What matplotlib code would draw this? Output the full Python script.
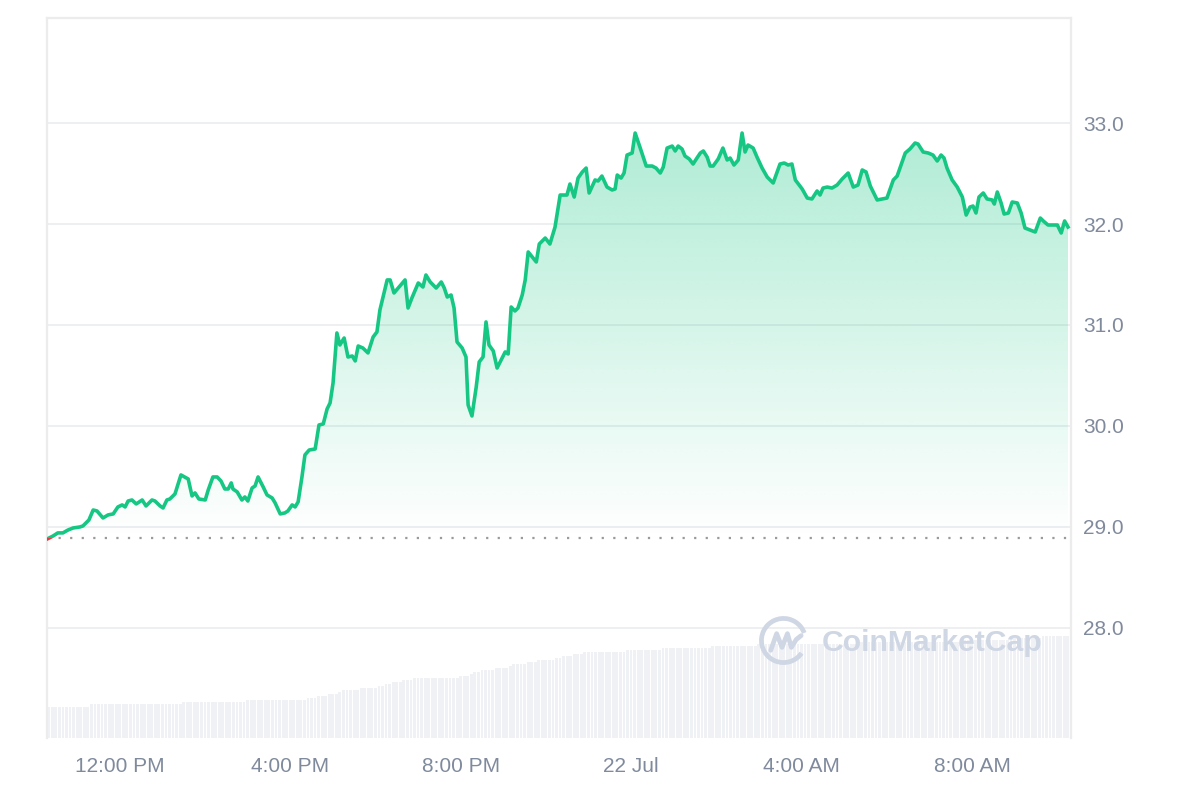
import numpy as np
import matplotlib
matplotlib.use("Agg")
import matplotlib.pyplot as plt
from matplotlib.patches import Polygon, Rectangle, Arc

plt.rcParams["font.family"] = ["Liberation Sans", "DejaVu Sans"]

GREEN, RED, GREY_TXT = "#16c784", "#ea3943", "#808a9d"

# hours relative to 21 Jul 12:00 PM
hours = [-1.69, -1.57, -1.46, -1.34, -1.22, -1.10, -0.94, -0.87, -0.73, -0.63, -0.54, -0.40,
         -0.28, -0.16, -0.05, 0.05, 0.12, 0.19, 0.28, 0.38, 0.52, 0.61, 0.75, 0.82, 0.94, 1.01,
         1.10, 1.17, 1.29, 1.43, 1.60, 1.69, 1.76, 1.85, 2.00, 2.07, 2.18, 2.28, 2.37, 2.46,
         2.54, 2.61, 2.65, 2.75, 2.86, 2.93, 3.00, 3.10, 3.17, 3.24, 3.36, 3.45, 3.57, 3.64,
         3.76, 3.87, 3.94, 4.04, 4.11, 4.18, 4.27, 4.34, 4.44, 4.58, 4.67, 4.77, 4.86, 4.93,
         5.00, 5.09, 5.16, 5.26, 5.35, 5.45, 5.52, 5.59, 5.70, 5.82, 5.94, 6.03, 6.10, 6.27,
         6.34, 6.43, 6.57, 6.69, 6.76, 6.85, 7.00, 7.11, 7.18, 7.28, 7.42, 7.54, 7.61, 7.68,
         7.77, 7.84, 7.91, 8.03, 8.12, 8.17, 8.26, 8.36, 8.43, 8.52, 8.59, 8.66, 8.76, 8.85,
         8.97, 9.04, 9.11, 9.18, 9.27, 9.34, 9.44, 9.51, 9.58, 9.77, 9.84, 9.98, 10.09, 10.21,
         10.33, 10.49, 10.56, 10.66, 10.75, 10.85, 10.94, 11.01, 11.15, 11.22, 11.31, 11.43,
         11.55, 11.62, 11.67, 11.76, 11.83, 11.90, 12.02, 12.09, 12.21, 12.35, 12.49, 12.58,
         12.68, 12.75, 12.84, 12.96, 13.03, 13.10, 13.19, 13.26, 13.36, 13.45, 13.54, 13.62,
         13.69, 13.78, 13.85, 13.92, 14.04, 14.15, 14.25, 14.32, 14.41, 14.51, 14.60, 14.67,
         14.74, 14.86, 14.95, 15.07, 15.19, 15.33, 15.49, 15.59, 15.68, 15.77, 15.85, 16.01,
         16.13, 16.24, 16.36, 16.43, 16.50, 16.60, 16.71, 16.83, 16.95, 17.09, 17.21, 17.32,
         17.42, 17.51, 17.61, 17.77, 17.89, 18.00, 18.15, 18.24, 18.43, 18.54, 18.66, 18.73,
         18.85, 18.97, 19.08, 19.18, 19.27, 19.34, 19.41, 19.53, 19.65, 19.77, 19.86, 19.95,
         20.02, 20.09, 20.16, 20.26, 20.35, 20.47, 20.52, 20.59, 20.68, 20.75, 20.85, 20.94,
         21.06, 21.15, 21.24, 21.36, 21.48, 21.60, 21.67, 21.78, 22.00, 22.09, 22.17, 22.25]

price = [28.885, 28.911, 28.941, 28.941, 28.970, 28.990, 29.000, 29.010, 29.069, 29.168, 29.158,
         29.089, 29.119, 29.129, 29.198, 29.218, 29.198, 29.257, 29.267, 29.228, 29.267, 29.208,
         29.267, 29.257, 29.208, 29.188, 29.267, 29.277, 29.327, 29.515, 29.475, 29.307, 29.337,
         29.277, 29.267, 29.366, 29.495, 29.495, 29.455, 29.376, 29.376, 29.436, 29.376, 29.347,
         29.267, 29.297, 29.257, 29.386, 29.406, 29.495, 29.396, 29.317, 29.287, 29.238, 29.129,
         29.139, 29.158, 29.218, 29.198, 29.248, 29.495, 29.713, 29.762, 29.772, 30.010, 30.020,
         30.168, 30.228, 30.426, 30.921, 30.802, 30.871, 30.683, 30.693, 30.644, 30.792, 30.772,
         30.723, 30.881, 30.931, 31.149, 31.446, 31.446, 31.317, 31.386, 31.446, 31.168, 31.267,
         31.416, 31.376, 31.495, 31.426, 31.366, 31.426, 31.366, 31.277, 31.297, 31.168, 30.832,
         30.772, 30.683, 30.208, 30.099, 30.386, 30.634, 30.683, 31.030, 30.802, 30.743, 30.574,
         30.673, 30.733, 30.713, 31.178, 31.139, 31.168, 31.297, 31.446, 31.723, 31.624, 31.802,
         31.861, 31.802, 31.970, 32.287, 32.287, 32.396, 32.267, 32.455, 32.515, 32.554, 32.307,
         32.436, 32.426, 32.475, 32.366, 32.337, 32.347, 32.485, 32.455, 32.505, 32.683, 32.703,
         32.901, 32.752, 32.574, 32.574, 32.554, 32.505, 32.564, 32.752, 32.772, 32.723, 32.772,
         32.743, 32.673, 32.644, 32.594, 32.653, 32.703, 32.723, 32.663, 32.574, 32.574, 32.644,
         32.752, 32.634, 32.653, 32.584, 32.634, 32.901, 32.713, 32.782, 32.752, 32.663, 32.554,
         32.465, 32.406, 32.594, 32.604, 32.584, 32.594, 32.436, 32.347, 32.257, 32.248, 32.327,
         32.287, 32.356, 32.366, 32.356, 32.386, 32.446, 32.505, 32.366, 32.386, 32.535, 32.515,
         32.376, 32.238, 32.248, 32.257, 32.436, 32.475, 32.703, 32.743, 32.802, 32.792, 32.713,
         32.703, 32.683, 32.624, 32.683, 32.653, 32.554, 32.436, 32.366, 32.267, 32.089, 32.168,
         32.178, 32.109, 32.267, 32.307, 32.248, 32.238, 32.198, 32.317, 32.208, 32.099, 32.109,
         32.218, 32.208, 32.109, 31.960, 31.941, 31.921, 32.059, 32.030, 31.990, 31.990, 31.911,
         32.030, 31.970]

open_price = 28.89

# 24h volume (M USD), step levels and the hour at which each level ends
vol_levels = [62.6, 67.4, 71.4, 75.4, 79.4, 83.4, 87.4, 91.4, 95.4, 99.4, 103.4, 107.4, 111.4,
              115.4, 119.4, 123.4, 127.4, 131.4, 135.4, 139.4, 143.4, 147.4, 151.4, 155.4,
              159.4, 163.4, 167.4, 171.4, 175.4, 179.4, 183.4, 187.4, 191.4, 195.4, 199.4, 203.4]
vol_ends = [-0.70, 1.48, 2.98, 4.39, 4.62, 4.88, 5.12, 5.23, 5.63, 6.06, 6.22, 6.38, 6.64, 6.88,
            7.93, 8.22, 8.31, 8.45, 8.80, 9.13, 9.23, 9.55, 9.79, 10.21, 10.38, 10.63, 10.87,
            11.88, 12.72, 13.87, 14.95, 17.37, 19.72, 20.89, 21.60, 22.32]

tick_hours = [0, 4, 8, 12, 16, 20]
tick_labels = ["12:00 PM", "4:00 PM", "8:00 PM", "22 Jul", "4:00 AM", "8:00 AM"]
price_ticks = [28.0, 29.0, 30.0, 31.0, 32.0, 33.0]

t = np.array(hours)
p = np.array(price)
X0, X1 = -1.714, 22.32
Y0, Y1 = 26.91, 34.04

fig = plt.figure(figsize=(12, 8), dpi=100)
rect = [47 / 1200, 62 / 800, 1024 / 1200, 720 / 800]

# ---- volume bars (background axes)
axv = fig.add_axes(rect)
centers = X0 + (np.arange(288) + 0.5) / 12
idx = np.minimum(np.searchsorted(vol_ends, centers), len(vol_levels) - 1)
axv.bar(centers, np.array(vol_levels)[idx], width=1 / 12 * 0.8, color="#eff1f5", lw=0)
axv.set_xlim(X0, X1)
axv.set_ylim(0, 1440)
axv.axis("off")

# ---- price axes
ax = fig.add_axes(rect)
ax.patch.set_alpha(0)
ax.set_xlim(X0, X1)
ax.set_ylim(Y0, Y1)
ax.set_axisbelow(True)

# gradient fill between price and open price
verts = [(t[0], open_price)] + list(zip(t, p)) + [(t[-1], open_price)]
poly = Polygon(verts, closed=True, facecolor="none", edgecolor="none")
ax.add_patch(poly)
ny = 256
grad = np.zeros((ny, 2, 4))
grad[..., 0] = 22 / 255
grad[..., 1] = 199 / 255
grad[..., 2] = 132 / 255
grad[..., 3] = np.linspace(0.34, 0.0, ny)[:, None]
img = ax.imshow(grad, extent=[t[0], t[-1], open_price, p.max()], aspect="auto",
                origin="upper", zorder=2, interpolation="bilinear")
img.set_clip_path(poly)

# open-price dotted line
ax.hlines(open_price, X0, t[-1], colors="#9a9a9a", linestyles=(0, (1, 4.2)), lw=1.6, zorder=2.5)

# price line: green above open, red below
up = ax.plot(t, p, color=GREEN, lw=2.6, zorder=3, solid_joinstyle="round")[0]
up.set_clip_path(Rectangle((X0, open_price), X1 - X0, Y1 - open_price, transform=ax.transData))
dn = ax.plot(t, p, color=RED, lw=2.6, zorder=3)[0]
dn.set_clip_path(Rectangle((X0, Y0), X1 - X0, open_price - Y0, transform=ax.transData))

# grid / frame
ax.set_yticks(price_ticks)
ax.set_yticklabels([f"{v:.1f}" for v in price_ticks])
ax.yaxis.tick_right()
ax.grid(axis="y", color="#eceef0", lw=1.3)
ax.set_xticks(tick_hours)
ax.set_xticklabels(tick_labels)
ax.tick_params(axis="both", length=0, labelsize=15, labelcolor=GREY_TXT)
ax.tick_params(axis="y", pad=8.5)
ax.tick_params(axis="x", pad=14)
for s in ["left", "right", "top"]:
    ax.spines[s].set_color("#ececec")
    ax.spines[s].set_linewidth(1.6)
ax.spines["bottom"].set_visible(False)

# watermark
WM = "#cfd6e4"
lax = fig.add_axes([759 / 1200, 1 - 665 / 800, 49 / 1200, 49 / 800])
lax.set_xlim(0, 1)
lax.set_ylim(0, 1)
lax.axis("off")
lax.add_patch(Arc((0.5, 0.5), 0.9, 0.9, theta1=20, theta2=325, color=WM, lw=3.4))
lax.plot([0.24, 0.36, 0.47, 0.58, 0.66, 0.76, 0.86],
         [0.3, 0.64, 0.36, 0.64, 0.36, 0.52, 0.6], color=WM, lw=3.4,
         solid_joinstyle="round", solid_capstyle="round")
fig.text(822 / 1200, 1 - 651 / 800, "CoinMarketCap", color=WM, fontsize=21.7,
         fontweight="bold", ha="left", va="baseline")

fig.savefig("out.png", dpi=100)
